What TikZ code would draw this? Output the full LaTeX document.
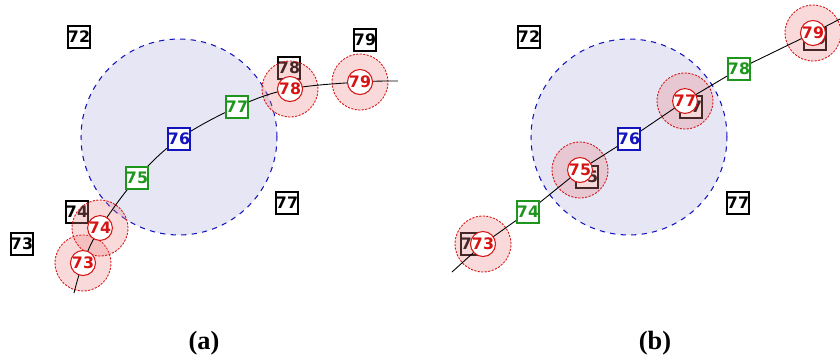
\documentclass[tikz,border=0pt]{standalone}
\usepackage{fontspec}
\setmainfont{Liberation Serif}
\setsansfont{DejaVu Sans}
\definecolor{zonefill}{RGB}{230,230,245}
\definecolor{reachfill}{RGB}{235,130,130}
\definecolor{nearcol}{RGB}{30,150,30}
\definecolor{querycol}{RGB}{20,20,190}
\definecolor{hitcol}{RGB}{215,20,20}

\begin{document}
\begin{tikzpicture}[x=0.02cm, y=-0.02cm,
    key/.style   = {draw, line width=0.6pt, fill=white, minimum size=0.44cm, inner sep=0pt, font=\sffamily\bfseries\fontsize{9}{9}\selectfont},
    nearkey/.style = {key, draw=nearcol, text=nearcol},
    querykey/.style = {key, draw=querycol, text=querycol},
    hit/.style   = {circle, draw=hitcol, text=hitcol, line width=0.6pt, fill=white, minimum size=0.44cm, inner sep=0pt, font=\sffamily\bfseries\fontsize{9}{9}\selectfont},
    reach/.style = {circle, draw=hitcol, dash pattern=on 1.2pt off 0.8pt, line width=0.5pt, fill=reachfill, fill opacity=0.3, minimum size=1.12cm},
    zone/.style  = {circle, draw=querycol, dashed, line width=0.6pt, fill=zonefill, minimum size=3.92cm},
    track/.style = {line width=0.5pt, black}]
    \useasboundingbox (0,0) rectangle (840,363);

    %%%%% (a)
    %search range
    \node[zone] (za) at (179,137) {};
    %stored keys
    \node[key] (a72) at (79,37)   {72};
    \node[key] (a73) at (22,244)  {73};
    \node[key] (a74) at (77,212)  {74};
    \node[key] (a77) at (287,203) {77};
    \node[key] (a78) at (289,68)  {78};
    \node[key] (a79) at (365,40)  {79};
    %track
    \coordinate (ta0)  at (74,293);
    \coordinate (ta73) at (83,263);
    \coordinate (ta74) at (100,228);
    \coordinate (ta75) at (137,178);
    \coordinate (ta76) at (179,139);
    \coordinate (ta77) at (237,107);
    \coordinate (ta78) at (290,89);
    \coordinate (ta79) at (360,82);
    \coordinate (ta1)  at (398,81);
    \node[reach] (ra73) at (ta73) {};
    \node[reach] (ra74) at (ta74) {};
    \node[reach] (ra78) at (ta78) {};
    \node[reach] (ra79) at (ta79) {};
    \draw[track] plot[smooth, tension=0.6] coordinates {(ta0) (ta73) (ta74) (ta75) (ta76) (ta77) (ta78) (ta79) (ta1)};
    \node[hit]      (ha73) at (ta73) {73};
    \node[hit]      (ha74) at (ta74) {74};
    \node[nearkey]  (na75) at (ta75) {75};
    \node[querykey] (qa76) at (ta76) {76};
    \node[nearkey]  (na77) at (ta77) {77};
    \node[hit]      (ha78) at (ta78) {78};
    \node[hit]      (ha79) at (ta79) {79};

    %%%%% (b)
    %search range
    \node[zone] (zb) at (629,137) {};
    %stored keys
    \node[key] (b72) at (529,37)  {72};
    \node[key] (b73) at (472,244) {73};
    \node[key] (b75) at (587,177) {75};
    \node[key] (b77) at (691,107) {77};
    \node[key] (b77o) at (738,203) {77};
    \node[key] (b79) at (815,39)  {79};
    %track
    \coordinate (tb0)  at (452,272);
    \coordinate (tb73) at (483,244);
    \coordinate (tb74) at (528,212);
    \coordinate (tb75) at (580,170);
    \coordinate (tb76) at (629,139);
    \coordinate (tb77) at (685,101);
    \coordinate (tb78) at (739,69);
    \coordinate (tb79) at (813,33);
    \coordinate (tb1)  at (840,19);
    \node[reach] (rb73) at (tb73) {};
    \node[reach] (rb75) at (tb75) {};
    \node[reach] (rb77) at (tb77) {};
    \node[reach] (rb79) at (tb79) {};
    \draw[track] (tb0) -- (tb73) -- (tb74) -- (tb75) -- (tb76) -- (tb77) -- (tb78) -- (tb79) -- (tb1);
    \node[hit]      (hb73) at (tb73) {73};
    \node[nearkey]  (nb74) at (tb74) {74};
    \node[hit]      (hb75) at (tb75) {75};
    \node[querykey] (qb76) at (tb76) {76};
    \node[hit]      (hb77) at (tb77) {77};
    \node[nearkey]  (nb78) at (tb78) {78};
    \node[hit]      (hb79) at (tb79) {79};

    %captions
    \node[font=\bfseries\fontsize{15}{17}\selectfont] (capa) at (204,343) {(a)};
    \node[font=\bfseries\fontsize{15}{17}\selectfont] (capb) at (655,343) {(b)};
\end{tikzpicture}
\end{document}
